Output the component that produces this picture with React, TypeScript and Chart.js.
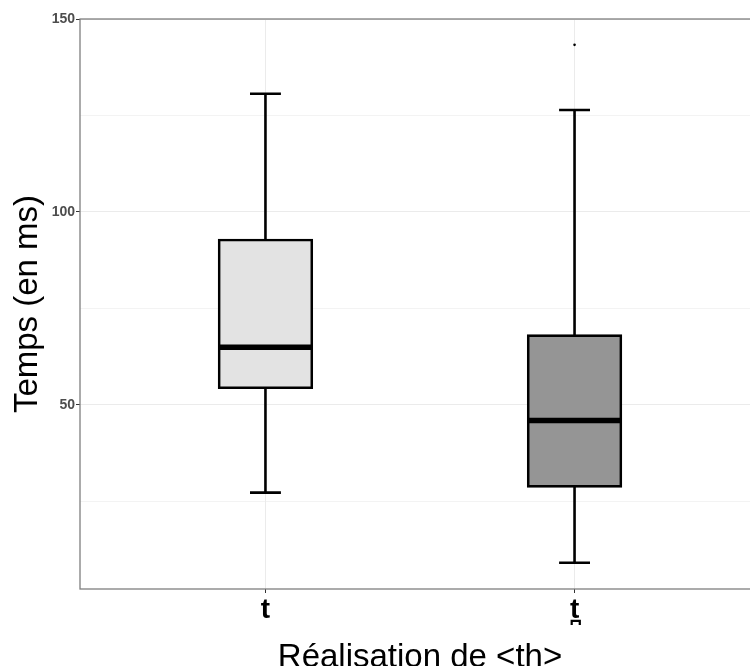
import { useEffect, useRef } from 'react';
import { Chart, registerables } from 'chart.js';

Chart.register(...registerables);

// ---- data ----
const categories = ['t', 't\u032A'];
const whiskerLow = [27.2, 9.0];
const q1 = [54.4, 28.8];
const median = [64.9, 45.9];
const q3 = [92.7, 67.9];
const whiskerHigh = [130.6, 126.4];
const outlierCategory = [2];
const outlierValue = [143.3];
const boxFills = ['#E3E3E3', '#959595'];
const yMajorTicks = [50, 100, 150];
const yMinorTicks = [25, 75, 125];
const yMin = 2.2;
const yMax = 150;
const xAxisTitle = 'Réalisation de <th>';
const yAxisTitle = 'Temps (en ms)';

const FONT = '"Liberation Sans", Arial, Helvetica, sans-serif';
const BOX_HALF = 0.15;
const CAP_HALF = 0.05;

const boxPartsPlugin = {
  id: 'boxParts',
  afterDatasetsDraw(chart: any) {
    const { ctx, scales } = chart;
    const x = scales.x;
    const y = scales.y;
    ctx.save();
    ctx.strokeStyle = '#000';
    ctx.lineCap = 'butt';
    categories.forEach((_, i) => {
      const pos = i + 1;
      const cx = x.getPixelForValue(pos);
      const capL = x.getPixelForValue(pos - CAP_HALF);
      const capR = x.getPixelForValue(pos + CAP_HALF);
      const boxL = x.getPixelForValue(pos - BOX_HALF);
      const boxR = x.getPixelForValue(pos + BOX_HALF);
      const yHi = y.getPixelForValue(whiskerHigh[i]);
      const yLo = y.getPixelForValue(whiskerLow[i]);
      const yQ1 = y.getPixelForValue(q1[i]);
      const yQ3 = y.getPixelForValue(q3[i]);
      const yMed = y.getPixelForValue(median[i]);
      ctx.lineWidth = 2.6;
      ctx.beginPath();
      ctx.moveTo(cx, yQ3);
      ctx.lineTo(cx, yHi);
      ctx.moveTo(cx, yQ1);
      ctx.lineTo(cx, yLo);
      ctx.moveTo(capL, yHi);
      ctx.lineTo(capR, yHi);
      ctx.moveTo(capL, yLo);
      ctx.lineTo(capR, yLo);
      ctx.stroke();
      ctx.lineWidth = 5.5;
      ctx.beginPath();
      ctx.moveTo(boxL, yMed);
      ctx.lineTo(boxR, yMed);
      ctx.stroke();
    });
    ctx.restore();
  },
  afterDraw(chart: any) {
    const { ctx, chartArea } = chart;
    const { left, right, top, bottom } = chartArea;
    ctx.save();
    ctx.strokeStyle = '#7F7F7F';
    ctx.lineWidth = 1.3;
    ctx.strokeRect(left, top, right - left, bottom - top);
    ctx.fillStyle = '#000';
    ctx.font = `33px ${FONT}`;
    ctx.textAlign = 'center';
    ctx.textBaseline = 'alphabetic';
    ctx.fillText(xAxisTitle, (left + right) / 2, 667);
    ctx.translate(37, (top + bottom) / 2);
    ctx.rotate(-Math.PI / 2);
    ctx.fillText(yAxisTitle, 0, 0);
    ctx.restore();
  },
};

export default function App() {
  const canvasRef = useRef<HTMLCanvasElement | null>(null);

  useEffect(() => {
    const canvas = canvasRef.current;
    if (!canvas) return;
    const chart = new Chart(canvas, {
      type: 'bar',
      data: {
        datasets: [
          {
            type: 'bar',
            data: categories.map((_, i) => ({ x: i + 1, y: [q1[i], q3[i]] })) as any,
            backgroundColor: boxFills,
            borderColor: '#000',
            borderWidth: 2.6,
            borderSkipped: false,
            inflateAmount: 1.3,
            barPercentage: 2 * BOX_HALF,
            categoryPercentage: 1,
          } as any,
          {
            type: 'scatter',
            data: outlierCategory.map((c, i) => ({ x: c, y: outlierValue[i] })),
            backgroundColor: '#000',
            borderWidth: 0,
            pointRadius: 1.3,
          } as any,
        ],
      },
      options: {
        responsive: false,
        animation: false,
        devicePixelRatio: 1,
        events: [],
        layout: { padding: { top: 19, left: 0, right: 0, bottom: 0 } },
        plugins: {
          legend: { display: false },
          tooltip: { enabled: false },
        },
        scales: {
          x: {
            type: 'linear',
            min: 0.4,
            max: 2.6,
            offset: false,
            afterBuildTicks: (scale: any) => {
              scale.ticks = categories.map((_, i) => ({ value: i + 1 }));
            },
            afterFit: (scale: any) => {
              scale.height = 77;
            },
            grid: {
              offset: false,
              color: '#EBEBEB',
              lineWidth: 1,
              drawTicks: true,
              tickLength: 4,
              tickColor: '#333333',
            },
            border: { display: false },
            ticks: {
              autoSkip: false,
              maxRotation: 0,
              padding: 0,
              color: '#000',
              font: { family: FONT, size: 28, weight: 'bold' },
              callback: (v: any) => categories[Math.round(Number(v)) - 1] ?? '',
            },
          },
          y: {
            type: 'linear',
            min: yMin,
            max: yMax,
            afterBuildTicks: (scale: any) => {
              scale.ticks = [...yMinorTicks, ...yMajorTicks]
                .sort((a, b) => a - b)
                .map((v) => ({ value: v }));
            },
            afterFit: (scale: any) => {
              scale.width = 80;
            },
            grid: {
              color: '#EBEBEB',
              lineWidth: (ctx: any) => (yMajorTicks.includes(ctx.tick?.value) ? 1 : 0.6),
              drawTicks: true,
              tickLength: 4,
              tickColor: (ctx: any) =>
                yMajorTicks.includes(ctx.tick?.value) ? '#333333' : 'rgba(0,0,0,0)',
            },
            border: { display: false },
            ticks: {
              autoSkip: false,
              padding: 1,
              color: '#4D4D4D',
              font: { family: FONT, size: 14, weight: 'bold' },
              callback: (v: any) => (yMajorTicks.includes(Number(v)) ? String(v) : ''),
            },
          },
        },
      },
      plugins: [boxPartsPlugin],
    });
    return () => chart.destroy();
  }, []);

  return (
    <div
      style={{
        position: 'fixed',
        left: 0,
        top: 0,
        width: 750,
        height: 666,
        overflow: 'hidden',
        background: '#fff',
      }}
    >
      <canvas ref={canvasRef} width={764} height={666} style={{ display: 'block' }} />
    </div>
  );
}
